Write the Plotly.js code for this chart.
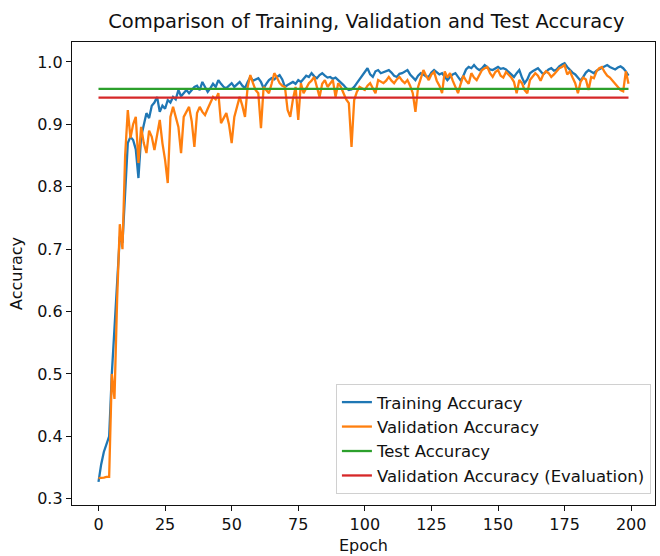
<!DOCTYPE html>
<html>
<head>
<meta charset="utf-8">
<script src="https://cdn.plot.ly/plotly-3.0.1.min.js"></script>
<style>
html,body{margin:0;padding:0;background:#fff;}
#chart{width:660px;height:556px;}
</style>
</head>
<body>
<div id="chart"></div>
<script>
const trainAcc = [
0.327,0.355,0.375,0.386,0.40,0.50,0.58,0.66,0.72,0.71,
0.80,0.87,0.88,0.875,0.86,0.814,0.88,0.90,0.918,0.91,
0.93,0.935,0.944,0.92,0.93,0.925,0.939,0.935,0.944,0.94,
0.955,0.945,0.95,0.955,0.95,0.955,0.96,0.962,0.955,0.968,
0.96,0.952,0.958,0.965,0.96,0.971,0.965,0.96,0.958,0.962,
0.966,0.96,0.964,0.968,0.962,0.958,0.968,0.976,0.97,0.972,
0.974,0.968,0.958,0.965,0.971,0.974,0.972,0.976,0.979,0.972,
0.96,0.963,0.966,0.968,0.965,0.971,0.968,0.974,0.978,0.976,
0.982,0.977,0.974,0.979,0.982,0.978,0.975,0.976,0.973,0.975,
0.971,0.968,0.963,0.958,0.955,0.956,0.96,0.966,0.972,0.976,
0.983,0.99,0.98,0.976,0.985,0.987,0.982,0.984,0.986,0.987,
0.983,0.978,0.976,0.981,0.982,0.985,0.987,0.98,0.975,0.971,
0.978,0.982,0.98,0.977,0.976,0.983,0.987,0.984,0.98,0.982,
0.977,0.971,0.976,0.98,0.982,0.976,0.97,0.978,0.988,0.992,
0.99,0.995,0.99,0.987,0.99,0.995,0.992,0.988,0.987,0.99,
0.992,0.989,0.99,0.988,0.984,0.98,0.976,0.982,0.987,0.975,
0.966,0.972,0.982,0.985,0.988,0.99,0.985,0.98,0.984,0.988,
0.99,0.986,0.988,0.993,0.996,0.998,0.992,0.987,0.983,0.98,
0.975,0.97,0.976,0.983,0.987,0.984,0.982,0.986,0.988,0.99,
0.993,0.995,0.992,0.99,0.988,0.991,0.993,0.99,0.985,0.978
];
const valAcc = [
0.333,0.333,0.334,0.335,0.335,0.50,0.46,0.62,0.74,0.70,
0.85,0.923,0.878,0.90,0.912,0.838,0.896,0.87,0.854,0.89,
0.88,0.859,0.88,0.907,0.87,0.843,0.806,0.912,0.928,0.91,
0.896,0.854,0.912,0.92,0.928,0.905,0.864,0.918,0.928,0.92,
0.915,0.925,0.934,0.944,0.94,0.95,0.902,0.91,0.918,0.90,
0.87,0.912,0.93,0.944,0.93,0.912,0.96,0.979,0.966,0.955,
0.95,0.894,0.96,0.955,0.95,0.965,0.982,0.975,0.966,0.962,
0.96,0.923,0.912,0.94,0.96,0.907,0.966,0.95,0.958,0.966,
0.97,0.976,0.96,0.944,0.965,0.971,0.96,0.965,0.971,0.944,
0.966,0.96,0.95,0.94,0.934,0.864,0.939,0.952,0.96,0.958,
0.955,0.962,0.966,0.958,0.95,0.971,0.968,0.966,0.97,0.976,
0.97,0.966,0.972,0.976,0.97,0.966,0.971,0.962,0.95,0.92,
0.96,0.975,0.987,0.978,0.971,0.98,0.984,0.97,0.962,0.95,
0.985,0.975,0.982,0.97,0.96,0.95,0.965,0.978,0.97,0.965,
0.982,0.975,0.971,0.98,0.987,0.99,0.992,0.982,0.976,0.984,
0.987,0.978,0.975,0.984,0.98,0.975,0.968,0.95,0.971,0.966,
0.955,0.95,0.971,0.976,0.982,0.978,0.97,0.98,0.985,0.982,
0.976,0.98,0.986,0.99,0.992,0.995,0.98,0.985,0.975,0.966,
0.95,0.968,0.975,0.972,0.955,0.976,0.974,0.985,0.99,0.992,
0.984,0.978,0.975,0.97,0.965,0.96,0.955,0.953,0.985,0.965
];
const testAcc = 0.957;
const evalValAcc = 0.943;
const xTicks = [0,25,50,75,100,125,150,175,200];
const yTicks = [0.3,0.4,0.5,0.6,0.7,0.8,0.9,1.0];
const seriesNames = ['Training Accuracy','Validation Accuracy','Test Accuracy','Validation Accuracy (Evaluation)'];

const epochs = trainAcc.map((_, i) => i);
const lastEpoch = epochs[epochs.length - 1];

const traces = [
  {x: epochs, y: trainAcc, name: seriesNames[0], mode: 'lines', line: {color: '#1f77b4', width: 2.3}},
  {x: epochs, y: valAcc, name: seriesNames[1], mode: 'lines', line: {color: '#ff7f0e', width: 2.3}},
  {x: [0, lastEpoch], y: [testAcc, testAcc], name: seriesNames[2], mode: 'lines', line: {color: '#2ca02c', width: 2.3}},
  {x: [0, lastEpoch], y: [evalValAcc, evalValAcc], name: seriesNames[3], mode: 'lines', line: {color: '#d62728', width: 2.3}}
];

const fontFam = 'DejaVu Sans, sans-serif';
const layout = {
  width: 660, height: 556,
  margin: {l: 72, r: 5, t: 42, b: 51},
  paper_bgcolor: '#fff', plot_bgcolor: '#fff',
  font: {family: fontFam, size: 16, color: '#111'},
  title: {text: 'Comparison of Training, Validation and Test Accuracy', x: 0.555, xanchor: 'center', y: 0.962, yanchor: 'middle', font: {family: fontFam, size: 19.5, color: '#111'}},
  showlegend: true,
  legend: {x: 0.993, xanchor: 'right', y: 0.024, yanchor: 'bottom', bgcolor: 'rgba(255,255,255,0.85)', bordercolor: '#d0d0d0', borderwidth: 1, font: {family: fontFam, size: 16.5, color: '#111'}, tracegroupgap: 0},
  xaxis: {
    range: [-9.95, 208.95], tickmode: 'array', tickvals: xTicks, ticktext: xTicks.map(String),
    showgrid: false, zeroline: false, showline: true, mirror: true, linecolor: '#111', linewidth: 1.2,
    ticks: 'outside', ticklen: 5, tickcolor: '#111', tickfont: {size: 16},
    title: {text: 'Epoch', font: {family: fontFam, size: 16, color: '#111'}, standoff: 6}
  },
  yaxis: {
    range: [0.290, 1.032], tickmode: 'array', tickvals: yTicks, ticktext: yTicks.map(v => v.toFixed(1)),
    showgrid: false, zeroline: false, showline: true, mirror: true, linecolor: '#111', linewidth: 1.2,
    ticks: 'outside', ticklen: 5, tickcolor: '#111', tickfont: {size: 16},
    title: {text: 'Accuracy', font: {family: fontFam, size: 16, color: '#111'}, standoff: 10}
  }
};

Plotly.newPlot('chart', traces, layout, {displayModeBar: false, staticPlot: true});
</script>
</body>
</html>
